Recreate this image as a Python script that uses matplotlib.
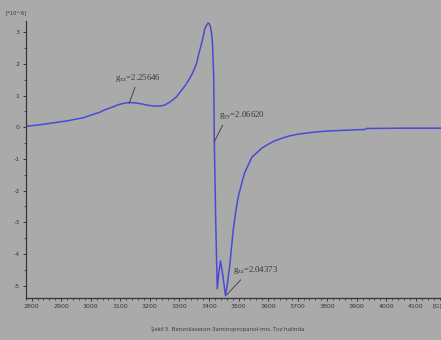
import matplotlib
matplotlib.use("Agg")
import matplotlib.pyplot as plt
from matplotlib.ticker import MultipleLocator

# EPR spectrum (field in G, intensity in 10^6)
field = [2783, 2830, 2860, 2890, 2920, 2975, 3000, 3030, 3050, 3075, 3090,
         3105, 3127, 3150, 3175, 3195, 3215, 3235, 3250, 3265, 3280, 3290,
         3310, 3320, 3335, 3345, 3358, 3365, 3375, 3380, 3386, 3392, 3397,
         3401, 3405, 3409, 3412, 3416, 3418, 3420, 3423, 3428, 3433, 3439,
         3446, 3456, 3463, 3471, 3482, 3490, 3499, 3510, 3520, 3530, 3545,
         3560, 3580, 3600, 3620, 3640, 3670, 3700, 3750, 3800, 3850, 3900,
         3928, 3933, 4050, 4185]
signal = [0.03, 0.08, 0.12, 0.16, 0.2, 0.3, 0.38, 0.47, 0.56, 0.64, 0.7,
          0.74, 0.78, 0.77, 0.73, 0.69, 0.67, 0.67, 0.7, 0.78, 0.88, 0.96,
          1.2, 1.32, 1.54, 1.72, 2.01, 2.3, 2.64, 2.85, 3.11, 3.22, 3.29,
          3.26, 3.17, 2.95, 2.64, 1.59, -0.41, -1.46, -3.04, -5.1, -4.62,
          -4.22, -4.62, -5.32, -4.9, -4.3, -3.25, -2.7, -2.2, -1.8, -1.45,
          -1.25, -0.95, -0.82, -0.65, -0.54, -0.44, -0.37, -0.28, -0.22,
          -0.16, -0.12, -0.1, -0.08, -0.07, -0.04, -0.03, -0.03]

g_names = ["xx", "yy", "zz"]
g_values = ["2.25646", "2.06620", "2.04373"]
g_field = [3130, 3418, 3460]
g_signal = [0.76, -0.46, -5.29]

caption = "Şekil 5. Benzoilaseton-3aminopropanol-mis. Toz halinda"

bg = "#aaaaaa"
ink = "#363636"
tick_font = ["Liberation Sans Narrow", "DejaVu Sans"]

plt.rcParams["mathtext.fontset"] = "custom"
plt.rcParams["mathtext.rm"] = "Liberation Serif"
plt.rcParams["mathtext.it"] = "Liberation Serif"

fig = plt.figure(figsize=(4.41, 3.40), dpi=100, facecolor=bg)
ax = fig.add_axes([0.0583, 0.1235, 0.9417, 0.8145], facecolor=bg)

ax.plot(field, signal, color="#4a4ad6", lw=1.1)

ax.set_xlim(2780, 4185)
ax.set_ylim(-5.39, 3.35)

for side in ["top", "right"]:
    ax.spines[side].set_visible(False)
for side in ["left", "bottom"]:
    ax.spines[side].set_color(ink)
    ax.spines[side].set_linewidth(0.9)

ax.xaxis.set_major_locator(MultipleLocator(100))
ax.xaxis.set_minor_locator(MultipleLocator(20))
ax.yaxis.set_major_locator(MultipleLocator(1))
ax.yaxis.set_minor_locator(MultipleLocator(0.5))
ax.tick_params(which="major", length=2.5, width=0.7, color=ink, pad=2,
               labelsize=4.5, labelcolor=ink)
ax.tick_params(which="minor", length=1.3, width=0.6, color=ink)

xt = [t for t in range(2800, 4200, 100)]
ax.set_xticks(xt)
ax.set_xticklabels([str(t) for t in xt], family=tick_font)
yt = [-5, -4, -3, -2, -1, 0, 1, 2, 3]
ax.set_yticks(yt)
ax.set_yticklabels([str(t) for t in yt], family=tick_font)

# unit labels at the ends of the axes
fig.text(6 / 441, 1 - 13 / 340, "[*10^6]", fontsize=3.8, color=ink,
         family=tick_font, va="center", ha="left")
fig.text(437 / 441, 1 - 306 / 340, "[G]", fontsize=4.5, color=ink,
         family=tick_font, va="center", ha="center")

# g-value labels with leader lines
text_pos = [(3082, 1.36), (3434, 0.2), (3480, -4.68)]
line_start = [(3150, 1.26), (3446, 0.06), (3507, -4.82)]
for name, val, fx, fy, tp, ls in zip(g_names, g_values, g_field, g_signal,
                                     text_pos, line_start):
    ax.plot([ls[0], fx], [ls[1], fy], color=ink, lw=0.6)
    ax.text(tp[0], tp[1], r"$\mathrm{g_{%s}}$=%s" % (name, val),
            family="Liberation Serif", fontsize=6.3, color=ink,
            ha="left", va="bottom")

fig.text(228 / 441, 1 - 330 / 340, caption, fontsize=4.2, color=ink,
         family=["Open Sans", "DejaVu Sans"], ha="center", va="center")

fig.savefig("out.png", dpi=100, facecolor=bg)
